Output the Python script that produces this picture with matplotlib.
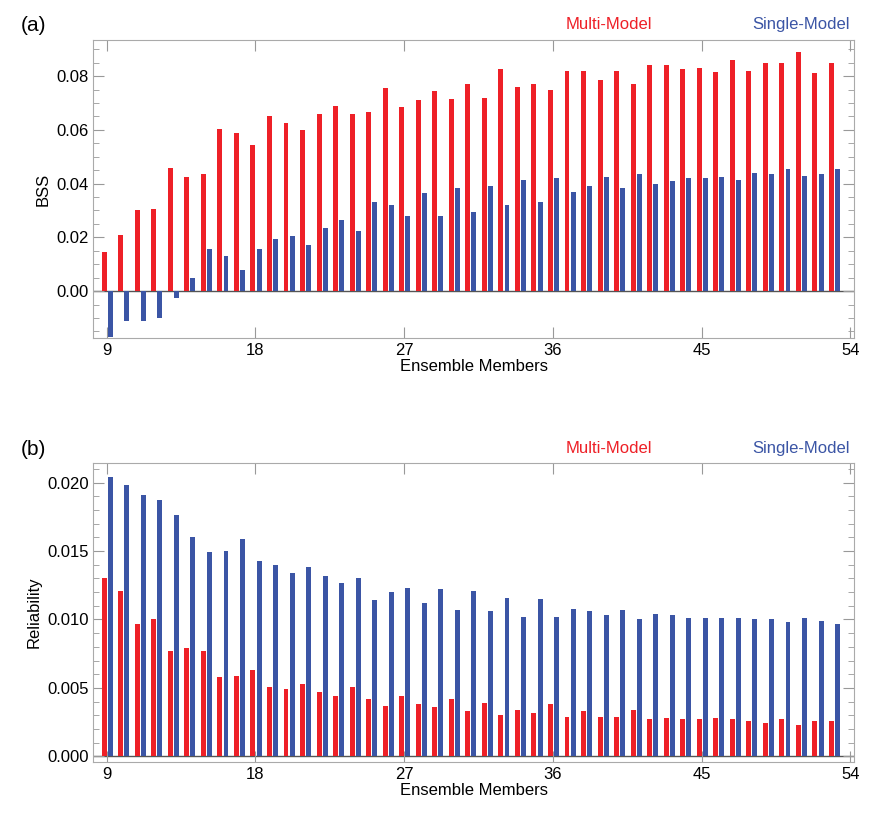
import numpy as np
import matplotlib
matplotlib.use('Agg')
import matplotlib.pyplot as plt
from matplotlib.ticker import MultipleLocator, FormatStrFormatter

plt.rcParams['font.family'] = ['Liberation Sans', 'DejaVu Sans']

members = np.arange(9, 54)

bss_multi = [.0145, .021, .030, .0305, .0458, .0425, .0437, .0605, .059, .0545,
             .065, .0625, .060, .066, .069, .066, .0665, .0755, .0685, .071,
             .0745, .0715, .077, .072, .0825, .076, .077, .075, .082, .082,
             .0785, .082, .077, .084, .084, .0825, .083, .0815, .086, .082,
             .085, .085, .089, .081, .085]
bss_single = [-.017, -.011, -.011, -.010, -.0025, .005, .0155, .013, .008, .0155,
              .0195, .0205, .017, .0235, .0265, .0225, .033, .032, .028, .0365,
              .028, .0385, .0295, .039, .032, .0415, .033, .042, .037, .039,
              .0425, .0385, .0435, .040, .041, .042, .042, .0425, .0415, .044,
              .0435, .0455, .043, .0435, .0455]

rel_multi = [.0130, .0121, .0097, .0100, .0077, .0079, .0077, .0058, .0059, .0063,
             .0051, .0049, .0053, .0047, .0044, .0051, .0042, .0037, .0044, .0038,
             .0036, .0042, .0033, .0039, .0030, .0034, .0032, .0038, .0029, .0033,
             .0029, .0029, .0034, .0027, .0028, .0027, .0027, .0028, .0027, .0026,
             .0024, .0027, .0023, .0026, .0026]
rel_single = [.0204, .0198, .0191, .0187, .0176, .0160, .0149, .0150, .0159, .0143,
              .0140, .0134, .0138, .0132, .0127, .0130, .0114, .0120, .0123, .0112,
              .0122, .0107, .0121, .0106, .0116, .0102, .0115, .0102, .0108, .0106,
              .0103, .0107, .0100, .0104, .0103, .0101, .0101, .0101, .0101, .0100,
              .0100, .0098, .0101, .0099, .0097]

red = '#ee2027'
blue = '#3b55a5'
w = 0.3

fig, axes = plt.subplots(2, 1, figsize=(8.73, 8.13), dpi=100)
fig.subplots_adjust(left=0.107, right=0.978, top=0.951, bottom=0.063, hspace=0.42)

panels = [
    (axes[0], bss_multi, bss_single, 'BSS', (-0.0175, 0.0935), 0.02, 0.005, '%.2f', '(a)'),
    (axes[1], rel_multi, rel_single, 'Reliability', (-0.0004, 0.0214), 0.005, 0.001, '%.3f', '(b)'),
]

for ax, m, s, ylab, ylim, maj, mnr, fmt, tag in panels:
    ax.bar(members - 0.15, m, width=w, color=red, zorder=2)
    ax.bar(members + 0.22, s, width=w, color=blue, zorder=2)
    ax.axhline(0, color='#555555', lw=1, zorder=1)
    ax.set_xlim(8.2, 54.2)
    ax.set_ylim(*ylim)
    ax.set_xticks([9, 18, 27, 36, 45, 54])
    ax.yaxis.set_major_locator(MultipleLocator(maj))
    ax.yaxis.set_minor_locator(MultipleLocator(mnr))
    ax.yaxis.set_major_formatter(FormatStrFormatter(fmt))
    ax.tick_params(which='both', direction='in', top=True, right=True,
                   color='#999999', labelsize=12)
    ax.tick_params(which='major', length=8)
    ax.tick_params(which='minor', length=4)
    for sp in ax.spines.values():
        sp.set_color('#aaaaaa')
    ax.set_ylabel(ylab, fontsize=12)
    ax.set_xlabel('Ensemble Members', fontsize=12, labelpad=1)
    ax.text(-0.095, 1.015, tag, transform=ax.transAxes, fontsize=15, va='bottom')
    ax.text(0.735, 1.025, 'Multi-Model', transform=ax.transAxes, color=red,
            fontsize=12, ha='right', va='bottom')
    ax.text(0.995, 1.025, 'Single-Model', transform=ax.transAxes, color=blue,
            fontsize=12, ha='right', va='bottom')

fig.savefig('out.png', dpi=100)
